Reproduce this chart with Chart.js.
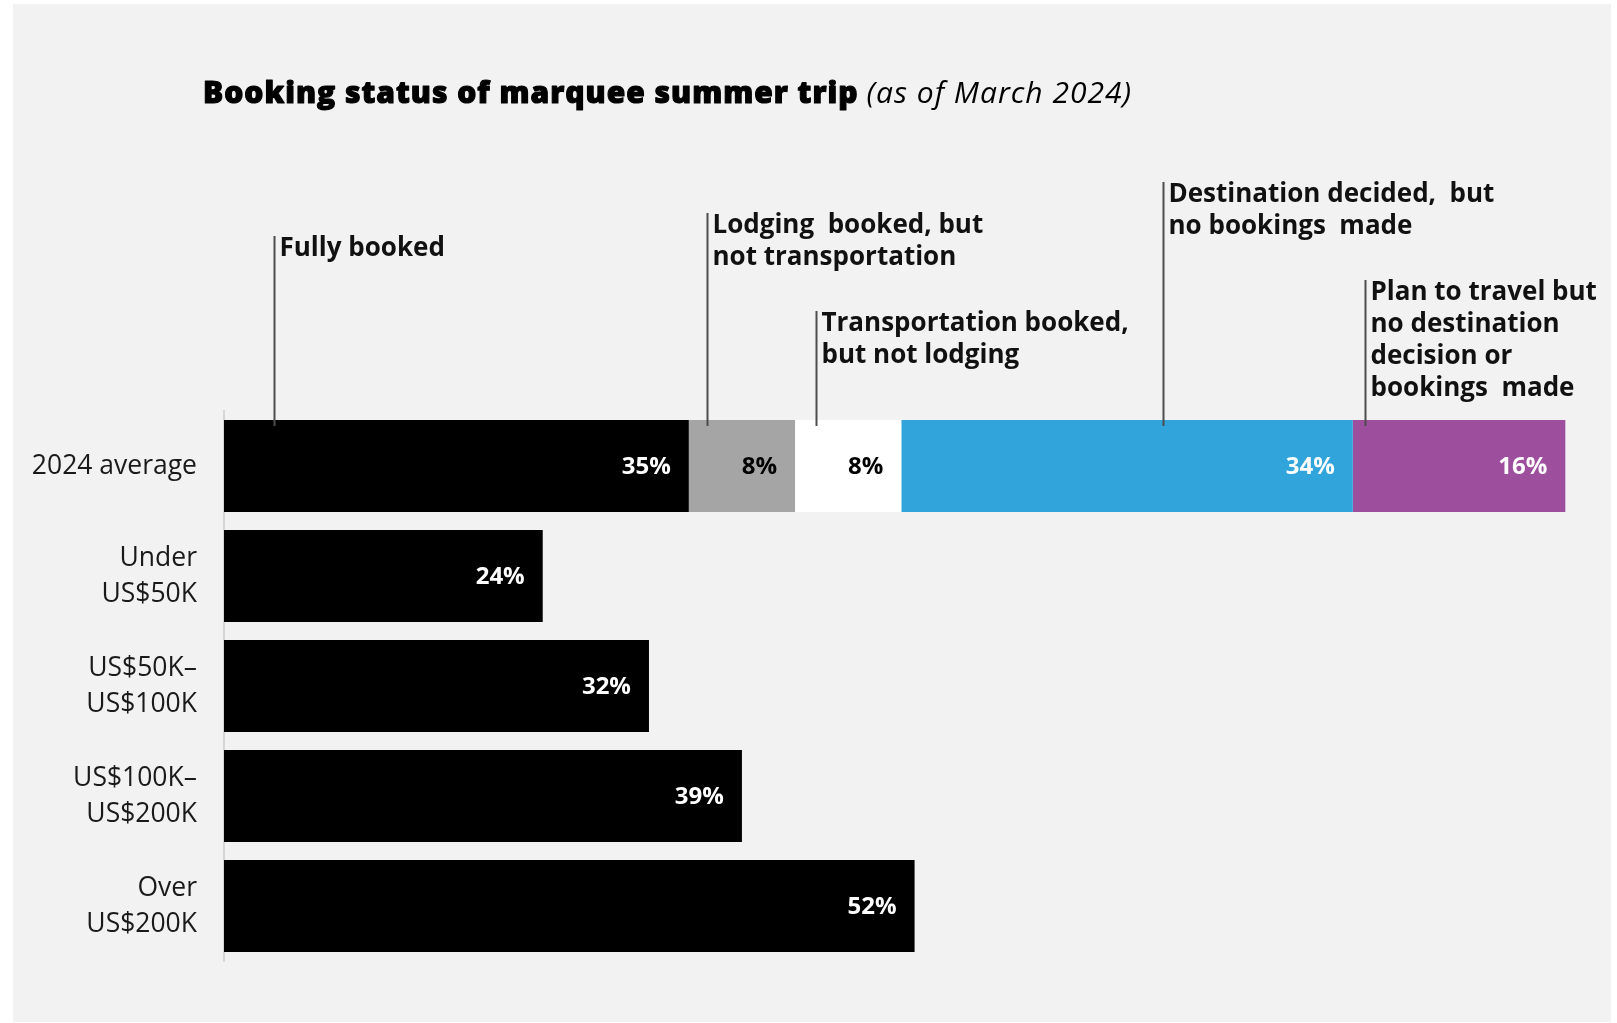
<!DOCTYPE html>
<html>
<head>
<meta charset="utf-8">
<title>Booking status of marquee summer trip</title>
<script src="https://cdn.jsdelivr.net/npm/chart.js@4.4.1/dist/chart.umd.min.js"></script>
<style>
  html, body { margin: 0; padding: 0; background: #ffffff; }
  #wrap { position: relative; width: 1617px; height: 1023px; }
  canvas { display: block; }
</style>
</head>
<body>
<div id="wrap"><canvas id="chart" width="1617" height="1023"></canvas></div>
<script>
// Rows of the chart (multi-line labels as arrays)
const categories = [
  ['2024 average'],
  ['Under', 'US$50K'],
  ['US$50K\u2013', 'US$100K'],
  ['US$100K\u2013', 'US$200K'],
  ['Over', 'US$200K']
];

// Booking-status series (percent of respondents)
const seriesNames = [
  'Fully booked',
  'Lodging booked, but not transportation',
  'Transportation booked, but not lodging',
  'Destination decided, but no bookings made',
  'Plan to travel but no destination decision or bookings made'
];
const fullyBooked      = [35, 24, 32, 39, 52];
const lodgingOnly      = [8, null, null, null, null];
const transportOnly    = [8, null, null, null, null];
const destinationOnly  = [34, null, null, null, null];
const noDestination    = [16, null, null, null, null];

// Callout text above the average bar, one entry per series
const calloutLines = [
  ['Fully booked'],
  ['Lodging  booked, but', 'not transportation'],
  ['Transportation booked,', 'but not lodging'],
  ['Destination decided,  but', 'no bookings  made'],
  ['Plan to travel but', 'no destination', 'decision or', 'bookings  made']
];

// --- styling ---
const colors      = ['#000000', '#a5a5a5', '#ffffff', '#31a5db', '#9d4e9d'];
const labelColors = ['#ffffff', '#000000', '#000000', '#ffffff', '#ffffff'];
// callout placement: leader offset into the segment (in % units) and first text line centre
const calloutStyle = [
  { offset: 3.8, firstY: 249 },
  { offset: 1.4, firstY: 226 },
  { offset: 1.6, firstY: 324 },
  { offset: 19.7, firstY: 195 },
  { offset: 0.95, firstY: 293 }
];

const panelPlugin = {
  id: 'panel',
  beforeDraw(chart) {
    const ctx = chart.ctx;
    ctx.save();
    ctx.fillStyle = '#ffffff';
    ctx.fillRect(0, 0, chart.width, chart.height);
    ctx.fillStyle = '#f2f2f2';
    ctx.fillRect(13, 4, 1598, 1018);
    ctx.restore();
  }
};

const titlePlugin = {
  id: 'mixedTitle',
  afterDraw(chart) {
    const ctx = chart.ctx;
    ctx.save();
    ctx.textBaseline = 'alphabetic';
    ctx.textAlign = 'left';
    ctx.fillStyle = '#000000';
    ctx.strokeStyle = '#000000';
    ctx.lineWidth = 1.1;
    ctx.lineJoin = 'round';
    ctx.letterSpacing = '1px';
    ctx.font = '800 30px "Open Sans"';
    const main = 'Booking status of marquee summer trip';
    ctx.fillText(main, 203, 103);
    ctx.strokeText(main, 203, 103);
    const w = ctx.measureText(main).width;
    ctx.font = 'italic 400 30px "Open Sans"';
    ctx.fillText('(as of March 2024)', 203 + w + 8, 103);
    ctx.restore();
  }
};

const valueLabelPlugin = {
  id: 'valueLabels',
  afterDatasetsDraw(chart) {
    const ctx = chart.ctx;
    ctx.save();
    ctx.font = 'bold 24px "Open Sans"';
    ctx.textAlign = 'right';
    ctx.textBaseline = 'middle';
    chart.data.datasets.forEach((ds, di) => {
      const meta = chart.getDatasetMeta(di);
      meta.data.forEach((bar, i) => {
        const v = ds.data[i];
        if (v === null || v === undefined) return;
        ctx.fillStyle = labelColors[di];
        ctx.fillText(v + '%', bar.x - 18, bar.y + 1);
      });
    });
    ctx.restore();
  }
};

const calloutPlugin = {
  id: 'callouts',
  afterDatasetsDraw(chart) {
    const ctx = chart.ctx;
    const xs = chart.scales.x;
    ctx.save();
    let start = 0;
    chart.data.datasets.forEach((ds, di) => {
      const bar = chart.getDatasetMeta(di).data[0];
      const top = bar.y - bar.height / 2;
      const st = calloutStyle[di];
      const lx = Math.round(xs.getPixelForValue(start + st.offset)) + 0.5;
      ctx.strokeStyle = '#4d4d4d';
      ctx.lineWidth = 2;
      ctx.beginPath();
      ctx.moveTo(lx, st.firstY - 13);
      ctx.lineTo(lx, top + 6);
      ctx.stroke();
      ctx.fillStyle = '#111111';
      ctx.font = 'bold 26px "Open Sans"';
      ctx.textAlign = 'left';
      ctx.textBaseline = 'middle';
      calloutLines[di].forEach((line, li) => {
        ctx.fillText(line, lx + 5, st.firstY + li * 32);
      });
      start += ds.data[0];
    });
    ctx.restore();
  }
};

const seriesData = [fullyBooked, lodgingOnly, transportOnly, destinationOnly, noDestination];

function build() {
  new Chart(document.getElementById('chart'), {
    type: 'bar',
    data: {
      labels: categories,
      datasets: seriesData.map((d, i) => ({
        label: seriesNames[i],
        data: d,
        backgroundColor: colors[i],
        borderWidth: 0,
        categoryPercentage: 1,
        barPercentage: 0.836
      }))
    },
    options: {
      indexAxis: 'y',
      responsive: false,
      animation: false,
      layout: { padding: { top: 411, bottom: 62, left: 0, right: 38.4 } },
      plugins: {
        legend: { display: false },
        title: { display: false },
        tooltip: { enabled: false }
      },
      scales: {
        x: {
          stacked: true,
          min: 0,
          max: 102,
          display: false
        },
        y: {
          stacked: true,
          grid: { display: false, drawTicks: false },
          border: { display: true, color: '#d6d6d6', width: 2 },
          afterFit(scale) { scale.width = 224; },
          ticks: {
            color: '#1a1a1a',
            padding: 27,
            font: { family: '"Open Sans"', size: 26.5, lineHeight: 1.36 }
          }
        }
      }
    },
    plugins: [panelPlugin, valueLabelPlugin, calloutPlugin, titlePlugin]
  });
}

Promise.all([
  document.fonts.load('25px "Open Sans"'),
  document.fonts.load('bold 25px "Open Sans"'),
  document.fonts.load('800 30px "Open Sans"'),
  document.fonts.load('italic 30px "Open Sans"')
]).then(build, build);
</script>
</body>
</html>
